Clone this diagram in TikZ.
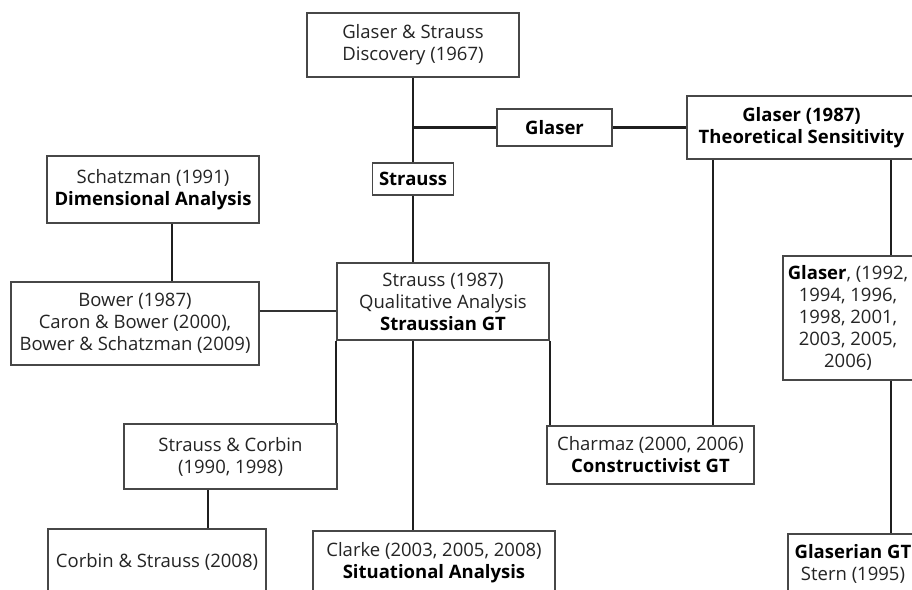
\documentclass[tikz,border=0pt]{standalone}
\usepackage{fontspec}
\setmainfont{Open Sans}
% bold, full-black emphasis inside the grey box text
\newcommand{\bhead}[1]{\textcolor{black}{\bfseries #1}}
\begin{document}
\begin{tikzpicture}[x=1pt,y=-1pt,
  box/.style={draw=black!72, line width=1.5pt, fill=white, inner sep=0pt,
              align=center, text=black!86, font=\fontsize{18.5}{22}\selectfont},
  link/.style={draw=black!88, line width=2.2pt},
  thinlink/.style={draw=black!80, line width=1.6pt},
]
\useasboundingbox (0,0) rectangle (912,589);
\clip (0,0) rectangle (912,589);

% boxes
\node[box, minimum width=212pt, minimum height=64pt] (disc) at (413,45)
  {Glaser \& Strauss\\Discovery (1967)};
\node[box, minimum width=115pt, minimum height=37pt] (glaser) at (554.5,127.5)
  {\bhead{Glaser}};
\node[box, minimum width=229pt, minimum height=63pt] (ts) at (801.5,127.5)
  {\bhead{Glaser (1987)}\\\bhead{Theoretical Sensitivity}};
\node[box, minimum width=81pt, minimum height=32pt] (strauss) at (413,179)
  {\bhead{Strauss}};
\node[box, minimum width=212pt, minimum height=67pt] (schatz) at (153,189.5)
  {Schatzman (1991)\\\bhead{Dimensional Analysis}};
\node[box, minimum width=248pt, minimum height=83pt] (bower) at (135,323.5)
  {Bower (1987)\\Caron \& Bower (2000),\\Bower \& Schatzman (2009)};
\node[box, minimum width=212pt, minimum height=77pt] (s87) at (443,301.5)
  {Strauss (1987)\\Qualitative Analysis\\\bhead{Straussian GT}};
\node[box, minimum width=130pt, minimum height=124pt] (g92) at (848,318)
  {\bhead{Glaser}, (1992,\\1994, 1996,\\1998, 2001,\\2003, 2005,\\2006)};
\node[box, minimum width=213pt, minimum height=65pt] (sc) at (230.5,456.5)
  {Strauss \& Corbin\\(1990, 1998)};
\node[box, minimum width=207pt, minimum height=58pt] (charmaz) at (650.5,455)
  {Charmaz (2000, 2006)\\\bhead{Constructivist GT}};
\node[box, minimum width=218pt, minimum height=66pt] (corbin) at (157,562)
  {Corbin \& Strauss (2008)};
\node[box, minimum width=242pt, minimum height=64pt] (clarke) at (434,563)
  {Clarke (2003, 2005, 2008)\\\bhead{Situational Analysis}};
\node[box, minimum width=130pt, minimum height=60pt] (glaserian) at (853,564)
  {\bhead{Glaserian GT}\\Stern (1995)};

% connectors
\draw[link] (disc.south) -- (strauss.north);
\draw[link] (disc.south |- glaser.west) -- (glaser.west);
\draw[link] (glaser.east) -- (ts.west);
\draw[link] (strauss.south) -- (strauss.south |- s87.north);
\draw[link] ([xshift=19pt]schatz.south) -- ([xshift=19pt]schatz.south |- bower.north);
\draw[thinlink] ([yshift=12.5pt]bower.east) -- ([yshift=12.5pt]bower.east -| s87.west);
\draw[link] (s87.south west) -- (s87.south west |- sc.north);
\draw[link] (strauss.south |- s87.south) -- (strauss.south |- clarke.north);
\draw[link] (s87.south east) -- (s87.south east |- charmaz.north);
\draw[link] ([xshift=-88.5pt]ts.south) -- ([xshift=-88.5pt]ts.south |- charmaz.north);
\draw[link] ([xshift=89.5pt]ts.south) -- ([xshift=89.5pt]ts.south |- g92.north);
\draw[link] ([xshift=43pt]g92.south) -- ([xshift=43pt]g92.south |- glaserian.north);
\draw[link] ([xshift=-22.5pt]sc.south) -- ([xshift=-22.5pt]sc.south |- corbin.north);
\end{tikzpicture}
\end{document}
